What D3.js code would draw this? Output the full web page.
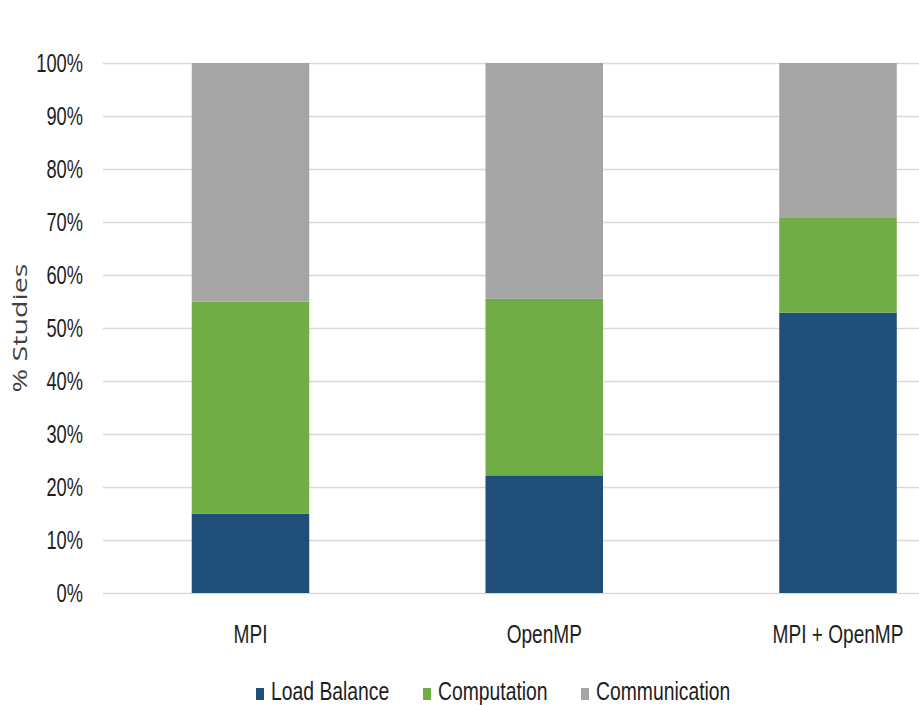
<!DOCTYPE html>
<html>
<head>
<meta charset="utf-8">
<script src="https://cdn.jsdelivr.net/npm/d3@7"></script>
<style>
  html, body { margin: 0; padding: 0; background: #fff; overflow: hidden; }
  svg { display: block; }
</style>
</head>
<body>
<svg id="chart" width="919" height="705"></svg>
<script>
// ---- data ----
const categories = ["MPI", "OpenMP", "MPI + OpenMP"];
const seriesNames = ["Load Balance", "Computation", "Communication"];
const loadBalance = [15, 22.2, 52.9];
const computation = [40, 33.3, 18];
const communication = [45, 44.5, 29.1];
const yTicks = [0, 10, 20, 30, 40, 50, 60, 70, 80, 90, 100];
const colors = ["#1F4E79", "#70AD47", "#A5A5A5"];

const rows = categories.map((c, i) => ({
  cat: c,
  "Load Balance": loadBalance[i],
  "Computation": computation[i],
  "Communication": communication[i]
}));

const svg = d3.select("#chart");
const W = 919, H = 705;
const fontMain = "'Liberation Sans', Arial, sans-serif";
const fs = 26.5, sx = 0.69, sxCat = 0.72, sxLeg = 0.73;
const textCol = "#1e1e1e";

const x = d3.scaleBand().domain(categories).range([103.6, 984.9])
  .paddingInner(0.6).paddingOuter(0.3);
const y = d3.scaleLinear().domain([0, 100]).range([593, 63]);
const color = d3.scaleOrdinal().domain(seriesNames).range(colors);

// gridlines + tick labels
const yAxis = d3.axisLeft(y).tickValues(yTicks).tickFormat(d => d + "%").tickSize(-(W - 103) - 10).tickPadding(0);
const gy = svg.append("g").attr("transform", "translate(103,0)").call(yAxis);
gy.select(".domain").remove();
gy.selectAll(".tick line").attr("stroke", "#d9d9d9").attr("stroke-width", 1.6);
gy.selectAll(".tick text")
  .attr("font-family", fontMain).attr("font-size", fs).attr("fill", textCol)
  .attr("text-anchor", "end")
  .attr("dy", null).attr("y", 8).attr("x", -20 / sx)
  .attr("transform", `scale(${sx},1)`);

// stacked bars
const stacked = d3.stack().keys(seriesNames)(rows);
svg.append("g").selectAll("g").data(stacked).join("g")
  .attr("fill", d => color(d.key))
  .selectAll("rect").data(d => d).join("rect")
  .attr("x", d => x(d.data.cat))
  .attr("width", x.bandwidth())
  .attr("y", d => y(d[1]))
  .attr("height", d => y(d[0]) - y(d[1]));

// category labels
const gx = svg.append("g");
categories.forEach(c => {
  gx.append("g").attr("transform", `translate(${x(c) + x.bandwidth() / 2},643) scale(${sxCat},1)`)
    .append("text").attr("text-anchor", "middle")
    .attr("font-family", fontMain).attr("font-size", fs).attr("fill", textCol)
    .text(c);
});

// y axis title
svg.append("text")
  .attr("transform", "translate(26.5,328) rotate(-90)")
  .attr("text-anchor", "middle")
  .attr("font-family", "'Open Sans', sans-serif").attr("font-size", 20)
  .attr("fill", "#404040")
  .attr("textLength", 129).attr("lengthAdjust", "spacingAndGlyphs")
  .text("% Studies");

// legend
const legendX = [256, 423, 581];
const leg = svg.append("g");
seriesNames.forEach((s, i) => {
  const lx = legendX[i];
  leg.append("rect").attr("x", lx).attr("y", 688).attr("width", 8).attr("height", 12).attr("fill", color(s));
  leg.append("g").attr("transform", `translate(${lx + 15},700) scale(${sxLeg},1)`)
    .append("text").attr("font-family", fontMain).attr("font-size", fs).attr("fill", textCol).text(s);
});
</script>
</body>
</html>
